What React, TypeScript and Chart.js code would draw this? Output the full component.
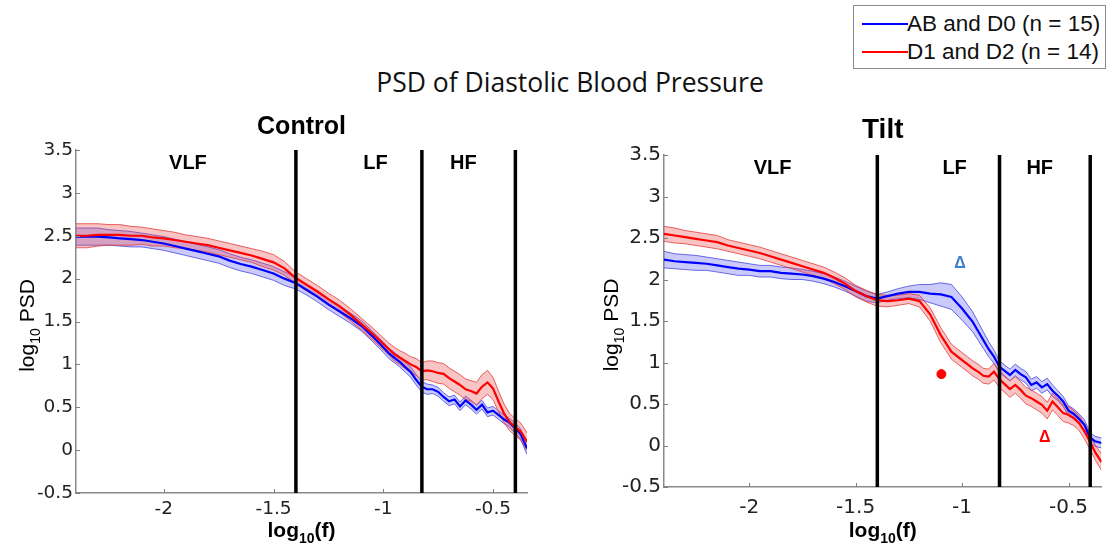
import React, { useEffect, useRef } from 'react';
import { Chart, registerables } from 'chart.js';
Chart.register(...registerables);

const FONT = "'Liberation Sans', Arial, sans-serif";
const TICK_FONT = "'DejaVu Sans', 'Liberation Sans', sans-serif";

// ---- data ----
const logFreq = [
  -2.40, -2.35, -2.30, -2.25, -2.20, -2.15, -2.10, -2.05, -2.00, -1.95,
  -1.90, -1.85, -1.80, -1.75, -1.70, -1.65, -1.60, -1.55, -1.50, -1.45,
  -1.40, -1.35, -1.30, -1.25, -1.20, -1.15, -1.10, -1.05,
  -1.000, -0.975, -0.950, -0.925, -0.900, -0.875, -0.850, -0.825, -0.800, -0.775,
  -0.750, -0.725, -0.700, -0.675, -0.650, -0.625, -0.600, -0.575, -0.550, -0.525,
  -0.500, -0.475, -0.450, -0.425, -0.400, -0.375, -0.345,
];

const controlAbMean = [
  2.49, 2.49, 2.49, 2.48, 2.47, 2.46, 2.45, 2.43, 2.41, 2.38,
  2.35, 2.32, 2.29, 2.26, 2.21, 2.17, 2.14, 2.10, 2.06, 2.00,
  1.95, 1.87, 1.79, 1.70, 1.62, 1.54, 1.45, 1.33,
  1.20, 1.13, 1.08, 1.03, 0.97, 0.91, 0.82, 0.74, 0.71, 0.71,
  0.68, 0.62, 0.57, 0.59, 0.51, 0.58, 0.53, 0.47, 0.53, 0.44,
  0.46, 0.41, 0.36, 0.32, 0.26, 0.19, 0.02,
];
const controlAbSem = [
  0.10, 0.10, 0.10, 0.09, 0.09, 0.09, 0.08, 0.08, 0.08, 0.08,
  0.08, 0.08, 0.08, 0.08, 0.08, 0.08, 0.08, 0.08, 0.08, 0.08,
  0.07, 0.06, 0.06, 0.06, 0.06, 0.06, 0.06, 0.06,
  0.06, 0.06, 0.06, 0.06, 0.06, 0.06, 0.06, 0.06, 0.06, 0.05,
  0.05, 0.05, 0.05, 0.05, 0.05, 0.05, 0.05, 0.05, 0.05, 0.05,
  0.05, 0.05, 0.05, 0.05, 0.06, 0.06, 0.07,
];
const controlDMean = [
  2.50, 2.50, 2.51, 2.51, 2.51, 2.50, 2.50, 2.48, 2.47, 2.45,
  2.43, 2.41, 2.39, 2.36, 2.33, 2.30, 2.27, 2.23, 2.19, 2.12,
  2.01, 1.93, 1.85, 1.76, 1.68, 1.58, 1.47, 1.36,
  1.24, 1.18, 1.12, 1.08, 1.04, 1.00, 0.97, 0.92, 0.93, 0.92,
  0.90, 0.89, 0.84, 0.80, 0.76, 0.71, 0.69, 0.66, 0.74, 0.79,
  0.72, 0.57, 0.43, 0.33, 0.27, 0.22, 0.10,
];
const controlDSem = [
  0.14, 0.14, 0.13, 0.12, 0.12, 0.11, 0.10, 0.10, 0.09, 0.09,
  0.08, 0.08, 0.08, 0.08, 0.08, 0.08, 0.08, 0.09, 0.09, 0.08,
  0.07, 0.07, 0.07, 0.07, 0.07, 0.07, 0.07, 0.07,
  0.07, 0.07, 0.08, 0.08, 0.09, 0.09, 0.10, 0.10, 0.11, 0.12,
  0.12, 0.12, 0.12, 0.12, 0.12, 0.12, 0.12, 0.13, 0.14, 0.14,
  0.13, 0.12, 0.11, 0.10, 0.10, 0.10, 0.10,
];

const tiltAbMean = [
  2.24, 2.22, 2.21, 2.20, 2.19, 2.17, 2.15, 2.13, 2.12, 2.10,
  2.10, 2.08, 2.07, 2.06, 2.04, 2.01, 1.97, 1.92, 1.86, 1.80,
  1.77, 1.80, 1.83, 1.85, 1.85, 1.83, 1.82, 1.79,
  1.65, 1.57, 1.49, 1.38, 1.27, 1.16, 1.07, 0.95, 0.90, 0.85,
  0.91, 0.86, 0.82, 0.73, 0.76, 0.70, 0.74, 0.66, 0.60, 0.53,
  0.42, 0.38, 0.32, 0.25, 0.10, 0.05, 0.03,
];
const tiltAbSem = [
  0.10, 0.09, 0.09, 0.09, 0.08, 0.08, 0.08, 0.08, 0.07, 0.07,
  0.07, 0.07, 0.07, 0.06, 0.06, 0.06, 0.06, 0.06, 0.06, 0.06,
  0.05, 0.05, 0.06, 0.07, 0.09, 0.11, 0.14, 0.15,
  0.14, 0.13, 0.12, 0.11, 0.10, 0.09, 0.08, 0.07, 0.07, 0.07,
  0.07, 0.07, 0.07, 0.07, 0.07, 0.07, 0.07, 0.07, 0.06, 0.06,
  0.06, 0.06, 0.06, 0.06, 0.06, 0.06, 0.06,
];
const tiltDMean = [
  2.55, 2.53, 2.51, 2.49, 2.47, 2.45, 2.41, 2.38, 2.35, 2.32,
  2.28, 2.24, 2.20, 2.16, 2.12, 2.08, 2.02, 1.95, 1.86, 1.80,
  1.75, 1.74, 1.75, 1.77, 1.74, 1.58, 1.33, 1.13,
  1.03, 0.98, 0.93, 0.89, 0.84, 0.83, 0.89, 0.80, 0.74, 0.68,
  0.73, 0.67, 0.60, 0.57, 0.53, 0.49, 0.42, 0.53, 0.46, 0.39,
  0.37, 0.33, 0.27, 0.17, 0.05, -0.08, -0.20,
];
const tiltDSem = [
  0.09, 0.09, 0.08, 0.08, 0.08, 0.08, 0.07, 0.07, 0.07, 0.07,
  0.07, 0.07, 0.07, 0.07, 0.07, 0.07, 0.07, 0.07, 0.07, 0.07,
  0.07, 0.07, 0.06, 0.06, 0.07, 0.08, 0.09, 0.09,
  0.09, 0.09, 0.09, 0.09, 0.09, 0.09, 0.10, 0.10, 0.10, 0.10,
  0.10, 0.10, 0.10, 0.10, 0.10, 0.10, 0.10, 0.10, 0.10, 0.10,
  0.10, 0.09, 0.09, 0.09, 0.09, 0.09, 0.10,
];

const bandEdges = [-1.398, -0.824, -0.398];
const bandNames = ['VLF', 'LF', 'HF'];
const bandLabelX = [-1.89, -1.035, -0.635];
const bandLabelY = 3.34;
const xTicks = [-2, -1.5, -1, -0.5];
const yTicks = [-0.5, 0, 0.5, 1, 1.5, 2, 2.5, 3, 3.5];
const X_MIN = -2.40;
const X_MAX = -0.345;
const Y_MIN = -0.5;
const Y_MAX = 3.5;

const seriesNames = ['AB and D0 (n = 15)', 'D1 and D2 (n = 14)'];
const seriesColors = ['#0000ff', '#ff0000'];

// tilt annotations
const tiltDotX = [-1.097];
const tiltDotY = [0.86];
const tiltDeltaX = [-1.01, -0.612];
const tiltDeltaY = [2.19, 0.10];
const tiltDeltaColor = ['#3b7fd0', '#ff0000'];

const mainTitle = 'PSD of Diastolic Blood Pressure';

type PanelCfg = {
  title: string;
  abMean: number[]; abSem: number[]; dMean: number[]; dSem: number[];
  left: number; top: number; width: number; height: number;
  yAxisW: number; xAxisH: number; padT: number; padR: number;
  tickSize: number; xTickPad: number; titleSize: number; titleOffset: number;
  yTitleX: number; xTitleBase: number; bandSize: number; axisTitleSize: number;
  dots?: boolean; deltas?: boolean;
};

function Panel({ cfg }: { cfg: PanelCfg }) {
  const ref = useRef<HTMLCanvasElement>(null);
  useEffect(() => {
    const canvas = ref.current!;
    const band = (m: number[], s: number[], sign: number) => logFreq.map((x, i) => ({ x, y: m[i] + sign * s[i] }));
    const line = (m: number[]) => logFreq.map((x, i) => ({ x, y: m[i] }));
    const blueFill = 'rgba(70,70,240,0.28)';
    const blueEdge = 'rgba(60,60,220,0.75)';
    const redFill = 'rgba(235,70,70,0.32)';
    const redEdge = 'rgba(225,50,50,0.75)';
    const datasets: any[] = [
      { data: band(cfg.abMean, cfg.abSem, 1), borderColor: blueEdge, borderWidth: 1, backgroundColor: blueFill, fill: '+1', order: 4 },
      { data: band(cfg.abMean, cfg.abSem, -1), borderColor: blueEdge, borderWidth: 1, fill: false, order: 4 },
      { data: band(cfg.dMean, cfg.dSem, 1), borderColor: redEdge, borderWidth: 1, backgroundColor: redFill, fill: '+1', order: 3 },
      { data: band(cfg.dMean, cfg.dSem, -1), borderColor: redEdge, borderWidth: 1, fill: false, order: 3 },
      { label: seriesNames[0], data: line(cfg.abMean), borderColor: seriesColors[0], borderWidth: 2.2, fill: false, order: 2 },
      { label: seriesNames[1], data: line(cfg.dMean), borderColor: seriesColors[1], borderWidth: 2.2, fill: false, order: 1 },
      ...bandEdges.map((b) => ({
        data: [{ x: b, y: Y_MIN }, { x: b, y: Y_MAX }],
        borderColor: '#000', borderWidth: 3.5, fill: false, order: 0,
      })),
    ];
    if (cfg.dots) {
      datasets.push({
        type: 'scatter', data: tiltDotX.map((x, i) => ({ x, y: tiltDotY[i] })),
        pointRadius: 4.5, pointBackgroundColor: '#ff0000', pointBorderColor: '#ff0000', showLine: false, order: 0,
      });
    }
    const annot = {
      id: 'annot',
      afterDraw(chart: any) {
        const { ctx, chartArea: a, scales } = chart;
        const xs = scales.x, ys = scales.y;
        ctx.save();
        // inward ticks
        ctx.strokeStyle = '#808080';
        ctx.lineWidth = 1;
        ctx.beginPath();
        xTicks.forEach((v) => {
          const px = Math.round(xs.getPixelForValue(v)) + 0.5;
          ctx.moveTo(px, a.bottom); ctx.lineTo(px, a.bottom - 4);
        });
        yTicks.forEach((v) => {
          const py = Math.round(ys.getPixelForValue(v)) + 0.5;
          ctx.moveTo(a.left, py); ctx.lineTo(a.left + 4, py);
        });
        ctx.stroke();
        // band labels
        ctx.fillStyle = '#000';
        ctx.textAlign = 'center';
        ctx.textBaseline = 'middle';
        ctx.font = `bold ${cfg.bandSize}px ${FONT}`;
        bandNames.forEach((n, i) => ctx.fillText(n, xs.getPixelForValue(bandLabelX[i]), ys.getPixelForValue(bandLabelY)));
        // delta markers
        if (cfg.deltas) {
          ctx.font = `bold 16px ${FONT}`;
          tiltDeltaX.forEach((x, i) => {
            ctx.fillStyle = tiltDeltaColor[i];
            ctx.fillText('\u0394', xs.getPixelForValue(x), ys.getPixelForValue(tiltDeltaY[i]));
          });
        }
        // panel title
        ctx.fillStyle = '#000';
        ctx.font = `bold ${cfg.titleSize}px ${FONT}`;
        ctx.fillText(cfg.title, (a.left + a.right) / 2, a.top - cfg.titleOffset);
        // y title: log10 PSD (rotated)
        const big = cfg.axisTitleSize, small = Math.round(cfg.axisTitleSize * 0.66);
        ctx.save();
        ctx.translate(cfg.yTitleX, (a.top + a.bottom) / 2 + 4);
        ctx.rotate(-Math.PI / 2);
        ctx.textAlign = 'left';
        ctx.textBaseline = 'alphabetic';
        ctx.font = `${big}px ${FONT}`;
        const w1 = ctx.measureText('log').width;
        const w3 = ctx.measureText(' PSD').width;
        ctx.font = `${small}px ${FONT}`;
        const w2 = ctx.measureText('10').width;
        let sx = -(w1 + w2 + w3) / 2;
        const base = big * 0.36;
        ctx.font = `${big}px ${FONT}`;
        ctx.fillText('log', sx, base); sx += w1;
        ctx.font = `${small}px ${FONT}`;
        ctx.fillText('10', sx, base + small * 0.45); sx += w2;
        ctx.font = `${big}px ${FONT}`;
        ctx.fillText(' PSD', sx, base);
        ctx.restore();
        // x title: log10(f)
        ctx.textAlign = 'left';
        ctx.textBaseline = 'alphabetic';
        ctx.font = `bold ${big}px ${FONT}`;
        const u1 = ctx.measureText('log').width;
        const u3 = ctx.measureText('(f)').width;
        ctx.font = `bold ${small}px ${FONT}`;
        const u2 = ctx.measureText('10').width;
        let tx = (a.left + a.right) / 2 - (u1 + u2 + u3) / 2;
        ctx.font = `bold ${big}px ${FONT}`;
        ctx.fillText('log', tx, cfg.xTitleBase); tx += u1;
        ctx.font = `bold ${small}px ${FONT}`;
        ctx.fillText('10', tx, cfg.xTitleBase + small * 0.45); tx += u2;
        ctx.font = `bold ${big}px ${FONT}`;
        ctx.fillText('(f)', tx, cfg.xTitleBase);
        ctx.restore();
      },
    };
    const chart = new Chart(canvas, {
      type: 'line',
      data: { datasets },
      options: {
        animation: false,
        responsive: false,
        maintainAspectRatio: false,
        layout: { padding: { left: 0, right: cfg.padR, top: cfg.padT, bottom: 0 } },
        plugins: { legend: { display: false }, tooltip: { enabled: false }, title: { display: false } },
        elements: { point: { radius: 0 }, line: { tension: 0 } },
        scales: {
          x: {
            type: 'linear', min: X_MIN, max: X_MAX,
            afterBuildTicks: (s: any) => { s.ticks = xTicks.map((v) => ({ value: v })); },
            afterFit: (s: any) => { s.height = cfg.xAxisH; },
            grid: { display: false, drawTicks: false, tickLength: 0 },
            border: { display: true, color: '#8a8a8a', width: 1.5 },
            ticks: {
              font: { family: TICK_FONT, size: cfg.tickSize }, color: '#222', padding: cfg.xTickPad,
              maxRotation: 0, autoSkip: false, callback: (v: any) => String(v),
            },
          },
          y: {
            type: 'linear', min: Y_MIN, max: Y_MAX,
            afterBuildTicks: (s: any) => { s.ticks = yTicks.map((v) => ({ value: v })); },
            afterFit: (s: any) => { s.width = cfg.yAxisW; },
            grid: { display: false, drawTicks: false, tickLength: 0 },
            border: { display: true, color: '#8a8a8a', width: 1.5 },
            ticks: {
              font: { family: TICK_FONT, size: cfg.tickSize }, color: '#222', padding: 3,
              autoSkip: false, callback: (v: any) => String(v),
            },
          },
        },
      } as any,
      plugins: [annot],
    });
    return () => chart.destroy();
  }, [cfg]);
  return (
    <canvas
      ref={ref}
      width={cfg.width}
      height={cfg.height}
      style={{ position: 'absolute', left: cfg.left, top: cfg.top, width: cfg.width, height: cfg.height }}
    />
  );
}

const controlCfg: PanelCfg = {
  title: 'Control', abMean: controlAbMean, abSem: controlAbSem, dMean: controlDMean, dSem: controlDSem,
  left: 0, top: 100, width: 560, height: 451, yAxisW: 76, xAxisH: 58, padT: 50, padR: 33,
  tickSize: 18.5, xTickPad: 5, titleSize: 25, titleOffset: 23, yTitleX: 26, xTitleBase: 437, bandSize: 20, axisTitleSize: 21,
};
const tiltCfg: PanelCfg = {
  title: 'Tilt', abMean: tiltAbMean, abSem: tiltAbSem, dMean: tiltDMean, dSem: tiltDSem,
  left: 560, top: 100, width: 547, height: 451, yAxisW: 104, xAxisH: 64, padT: 55, padR: 0,
  tickSize: 20, xTickPad: 9, titleSize: 28, titleOffset: 25, yTitleX: 50, xTitleBase: 437, bandSize: 20, axisTitleSize: 21,
  dots: true, deltas: true,
};

export default function App() {
  return (
    <div style={{ position: 'fixed', left: 0, top: 0, width: 1107, height: 551, background: '#fff', overflow: 'hidden' }}>
      <div
        style={{
          position: 'absolute', left: 320, top: 65, width: 500, textAlign: 'center',
          fontFamily: "'Open Sans', sans-serif", fontSize: 26.5, lineHeight: '34px', color: '#111',
        }}
      >
        {mainTitle}
      </div>
      <div
        style={{
          position: 'absolute', left: 853, top: 5, width: 253, height: 64, boxSizing: 'border-box',
          border: '1px solid #8a8a8a', background: '#fff',
        }}
      >
        {seriesNames.map((n, i) => (
          <React.Fragment key={n}>
            <div style={{ position: 'absolute', left: 8, top: 17 + i * 28, width: 46, height: 2, background: seriesColors[i] }} />
            <div
              style={{
                position: 'absolute', left: 53, top: 5 + i * 28, fontFamily: FONT, fontSize: 22.5,
                lineHeight: '26px', color: '#111', whiteSpace: 'nowrap',
              }}
            >
              {n}
            </div>
          </React.Fragment>
        ))}
      </div>
      <Panel cfg={controlCfg} />
      <Panel cfg={tiltCfg} />
    </div>
  );
}
